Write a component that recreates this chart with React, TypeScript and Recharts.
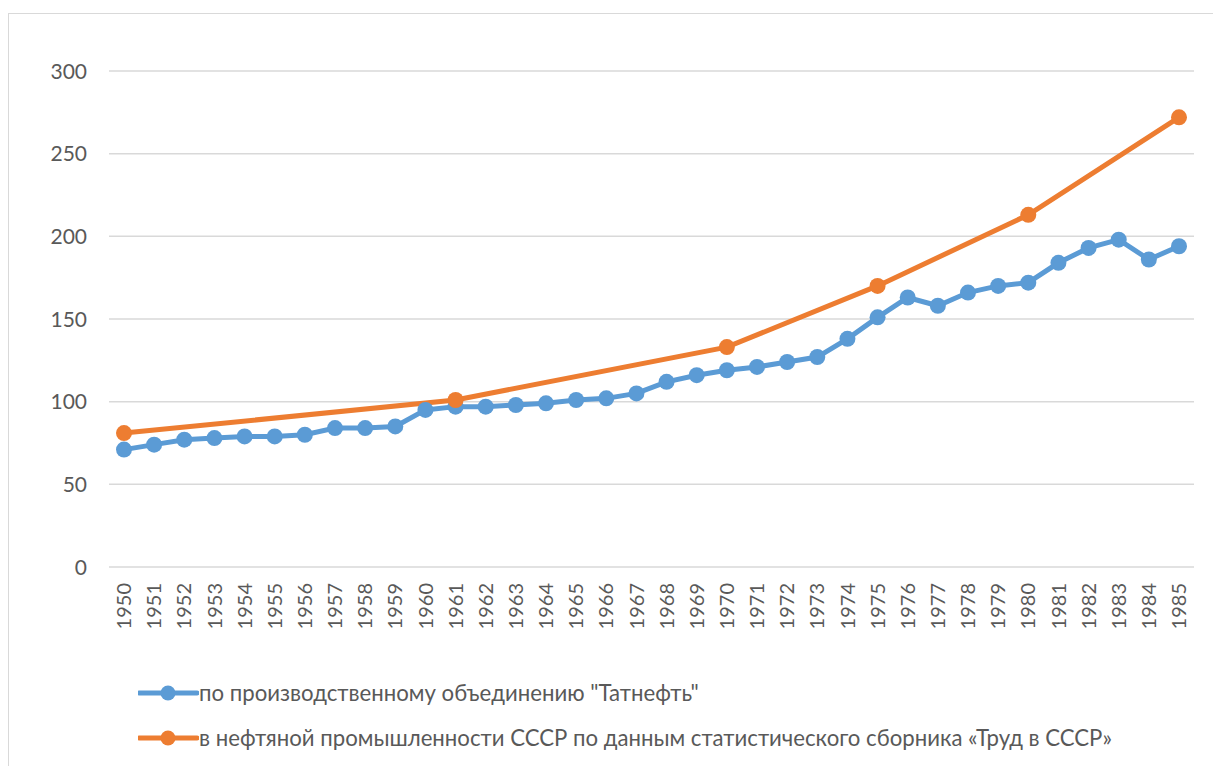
import React from 'react';
import { LineChart, Line, XAxis, YAxis, CartesianGrid, Legend } from 'recharts';

const years = ['1950','1951','1952','1953','1954','1955','1956','1957','1958','1959','1960','1961','1962','1963','1964','1965','1966','1967','1968','1969','1970','1971','1972','1973','1974','1975','1976','1977','1978','1979','1980','1981','1982','1983','1984','1985'];
const tatneft = [71,74,77,78,79,79,80,84,84,85,95,97,97,98,99,101,102,105,112,116,119,121,124,127,138,151,163,158,166,170,172,184,193,198,186,194];
const ussr: (number | null)[] = [81,null,null,null,null,null,null,null,null,null,null,101,null,null,null,null,null,null,null,null,133,null,null,null,null,170,null,null,null,null,213,null,null,null,null,272];
const yTicks = [0,50,100,150,200,250,300];
const seriesNames = ['по производственному объединению "Татнефть"', 'в нефтяной промышленности СССР по данным статистического сборника «Труд в СССР»'];

const data = years.map((y, i) => ({ year: y, tatneft: tatneft[i], ussr: ussr[i] }));

const FONT = 'Lato, "Open Sans", sans-serif';
const TEXT = '#595959';

const XTick = (props: any) => {
  const { x, y, payload } = props;
  const ty = y + 16;
  return (
    <text x={x} y={ty} transform={`rotate(-90, ${x}, ${ty})`} textAnchor="end" dy="0.36em" fill={TEXT} fontSize={20} fontFamily={FONT}>
      {payload.value}
    </text>
  );
};

const YTick = (props: any) => {
  const { x, y, payload } = props;
  return (
    <text x={x} y={y} textAnchor="end" dy="0.36em" fill={TEXT} fontSize={21} fontFamily={FONT}>
      {payload.value}
    </text>
  );
};

const LegendContent = (props: any) => {
  const payload = [...(props.payload || [])].sort(
    (a: any, b: any) => seriesNames.indexOf(a.value) - seriesNames.indexOf(b.value)
  );
  return (
    <div style={{ paddingLeft: 129 }}>
      {payload.map((p: any, i: number) => (
        <div key={i} style={{ height: 45, display: 'flex', alignItems: 'center' }}>
          <svg width={61} height={20} style={{ flex: 'none' }}>
            <line x1={1} y1={10} x2={59} y2={10} stroke={p.color} strokeWidth={5} strokeLinecap="round" />
            <circle cx={30} cy={10} r={7.5} fill={p.color} />
          </svg>
          <span style={{ fontFamily: FONT, fontSize: 22.2, color: TEXT, whiteSpace: 'nowrap' }}>{p.value}</span>
        </div>
      ))}
    </div>
  );
};

export default function App() {
  return (
    <div style={{ position: 'absolute', left: 8, top: 13, width: 1205, height: 753, boxSizing: 'border-box', borderTop: '1px solid #d9d9d9', borderLeft: '1px solid #d9d9d9', background: '#fff' }}>
      <LineChart width={1204} height={752} data={data} margin={{ top: 57, right: 19, left: 0, bottom: 139 }}>
        <CartesianGrid vertical={false} stroke="#d9d9d9" strokeWidth={1.5} />
        <XAxis dataKey="year" axisLine={false} tickLine={false} tickSize={0} tickMargin={0} height={60} interval={0} padding={{ left: 15, right: 15 }} tick={<XTick />} />
        <YAxis domain={[0, 300]} ticks={yTicks} axisLine={false} tickLine={false} tickSize={0} tickMargin={22} width={100} tick={<YTick />} />
        <Legend layout="vertical" align="center" verticalAlign="middle" itemSorter={null as any} wrapperStyle={{ left: 0, top: 656, width: 1204 }} content={<LegendContent />} />
        <Line name={seriesNames[0]} dataKey="tatneft" stroke="#5B9BD5" strokeWidth={5} dot={{ r: 8, fill: '#5B9BD5', stroke: 'none' }} activeDot={false} isAnimationActive={false} />
        <Line name={seriesNames[1]} dataKey="ussr" stroke="#ED7D31" strokeWidth={5} connectNulls dot={{ r: 8, fill: '#ED7D31', stroke: 'none' }} activeDot={false} isAnimationActive={false} />
      </LineChart>
    </div>
  );
}
